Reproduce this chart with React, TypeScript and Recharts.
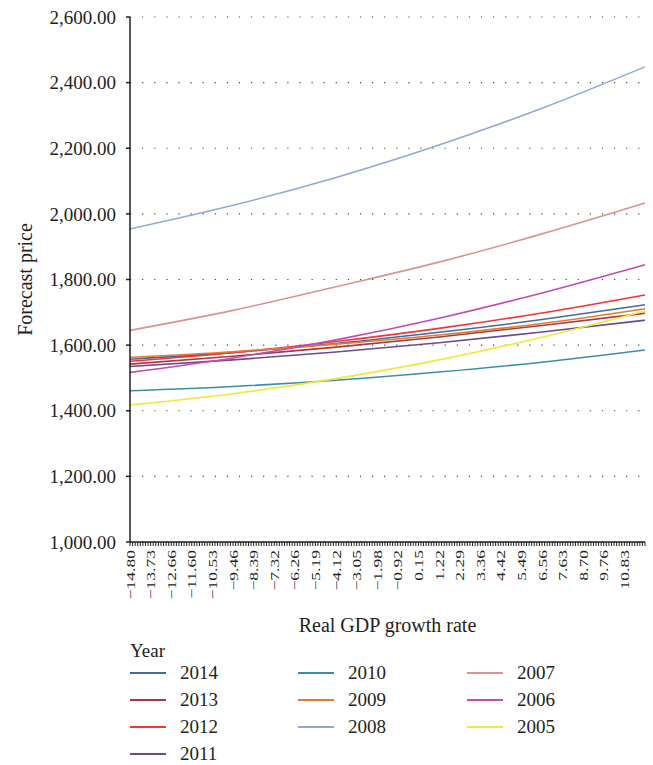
import { LineChart, Line, XAxis, YAxis, CartesianGrid } from 'recharts'

// x positions (real GDP growth rate) where the curves were read
const gdpRates = [-14.8, -9.46, -4.12, 1.22, 6.56, 11.9]

const y2014 = [1557, 1578, 1605, 1639, 1678, 1723]
const y2013 = [1542, 1566, 1594, 1625, 1660, 1697]
const y2012 = [1551, 1577, 1611, 1651, 1698, 1753]
const y2011 = [1535, 1555, 1579, 1607, 1640, 1676]
const y2010 = [1461, 1474, 1493, 1518, 1548, 1585]
const y2009 = [1563, 1580, 1603, 1631, 1666, 1711]
const y2008 = [1954, 2026, 2111, 2210, 2322, 2448]
const y2007 = [1645, 1706, 1778, 1853, 1939, 2033]
const y2006 = [1517, 1561, 1616, 1682, 1759, 1845]
const y2005 = [1418, 1452, 1498, 1555, 1624, 1704]

const xTickLabels = [
  '−14.80', '−13.73', '−12.66', '−11.60', '−10.53', '−9.46', '−8.39', '−7.32',
  '−6.26', '−5.19', '−4.12', '−3.05', '−1.98', '−0.92', '0.15', '1.22',
  '2.29', '3.36', '4.42', '5.49', '6.56', '7.63', '8.70', '9.76', '10.83',
]
const xEnd = 11.9
const yTicks = [1000, 1200, 1400, 1600, 1800, 2000, 2200, 2400, 2600]

const series = [
  { name: '2014', values: y2014, color: '#4468a8' },
  { name: '2013', values: y2013, color: '#a83a3e' },
  { name: '2012', values: y2012, color: '#f23434' },
  { name: '2011', values: y2011, color: '#6a4b8e' },
  { name: '2010', values: y2010, color: '#3a8fa6' },
  { name: '2009', values: y2009, color: '#e27b34' },
  { name: '2008', values: y2008, color: '#91a9d2' },
  { name: '2007', values: y2007, color: '#d99492' },
  { name: '2006', values: y2006, color: '#c14cb2' },
  { name: '2005', values: y2005, color: '#efe83e' },
]

const data = gdpRates.map((x, i) => {
  const row: any = { x }
  series.forEach((s) => { row[s.name] = s.values[i] })
  return row
})

// one minor tick per category: 8 steps between labelled ticks
const SUB = 8
const labelValues = xTickLabels.map((l) => parseFloat(l.replace('−', '-')))
const minorTicks: number[] = []
labelValues.forEach((v, i) => {
  const next = i < labelValues.length - 1 ? labelValues[i + 1] : xEnd
  for (let k = 0; k < SUB; k++) minorTicks.push(v + ((next - v) * k) / SUB)
})
minorTicks.push(xEnd)

const FONT = '"Liberation Serif", "Times New Roman", serif'
const INK = '#231f20'

const XTick = ({ x, y, index }: any) => {
  if (index % SUB !== 0 || index / SUB >= xTickLabels.length) return null
  const label = xTickLabels[index / SUB]
  return (
    <text
      transform={`translate(${x},${y + 2}) rotate(-90) scale(1.35,1)`}
      textAnchor="end"
      dominantBaseline="central"
      fontSize={13}
      fontFamily={FONT}
      fill={INK}
    >
      {label}
    </text>
  )
}

const legendColumns = [series.slice(0, 4), series.slice(4, 7), series.slice(7)]
const legendColLeft = [130, 298, 467]

const App = () => {
  const wrapStyle: React.CSSProperties = {
    position: 'absolute',
    left: 0,
    top: 0,
    width: 653,
    height: 765,
    background: '#fff',
    fontFamily: FONT,
    color: INK,
  }

  return (
    <div style={wrapStyle}>
      <LineChart
        width={653}
        height={640}
        data={data}
        margin={{ top: 17, right: 8, bottom: 8, left: 0 }}
      >
        <CartesianGrid
          vertical={false}
          stroke="#444"
          strokeWidth={1.2}
          strokeDasharray="1.2 10.9"
        />
        <XAxis
          dataKey="x"
          type="number"
          domain={[labelValues[0], xEnd]}
          ticks={minorTicks}
          interval={0}
          tickSize={4}
          height={90}
          axisLine={{ stroke: INK, strokeWidth: 1.5 }}
          tickLine={{ stroke: INK, strokeWidth: 1 }}
          tick={<XTick />}
          label={{
            value: 'Real GDP growth rate',
            position: 'insideBottom',
            offset: 0,
            style: { fontSize: 20, fontFamily: FONT, fill: INK },
          }}
        />
        <YAxis
          type="number"
          domain={[1000, 2600]}
          ticks={yTicks}
          interval={0}
          width={130}
          tickSize={4}
          tickMargin={10}
          axisLine={{ stroke: INK, strokeWidth: 1.5 }}
          tickLine={{ stroke: INK, strokeWidth: 1.5 }}
          tick={{ fontSize: 19, fontFamily: FONT, fill: INK }}
          tickFormatter={(v: number) =>
            v.toLocaleString('en-US', { minimumFractionDigits: 2, maximumFractionDigits: 2 })
          }
          label={{
            value: 'Forecast price',
            angle: -90,
            position: 'insideLeft',
            offset: 25,
            style: { fontSize: 20, fontFamily: FONT, fill: INK, textAnchor: 'middle' },
          }}
        />
        {series.map((s) => (
          <Line
            key={s.name}
            dataKey={s.name}
            type="monotone"
            stroke={s.color}
            strokeWidth={1.6}
            dot={false}
            activeDot={false}
            isAnimationActive={false}
          />
        ))}
      </LineChart>

      <div style={{ position: 'absolute', left: 130, top: 641, fontSize: 19, lineHeight: '20px' }}>
        Year
      </div>
      {legendColumns.map((col, ci) =>
        col.map((s, ri) => (
          <div
            key={s.name}
            style={{
              position: 'absolute',
              left: legendColLeft[ci],
              top: 663 + ri * 27,
              height: 20,
              display: 'flex',
              alignItems: 'center',
              fontSize: 19,
            }}
          >
            <span style={{ display: 'inline-block', width: 36, height: 2, background: s.color }} />
            <span style={{ marginLeft: 14 }}>{s.name}</span>
          </div>
        ))
      )}
    </div>
  )
}

export default App
